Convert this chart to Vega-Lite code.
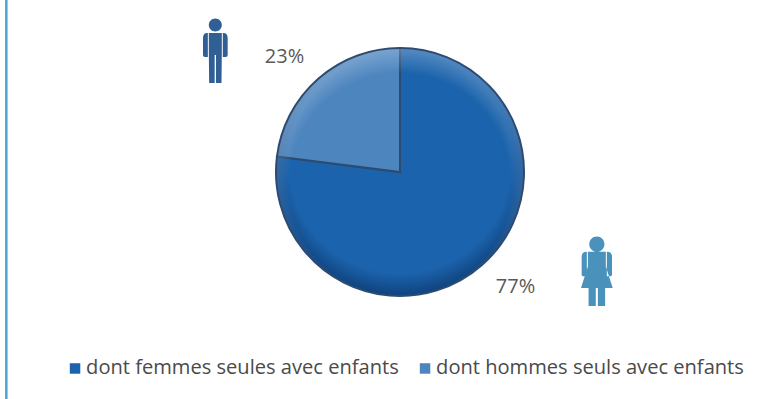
{
  "$schema": "https://vega.github.io/schema/vega-lite/v6.json",
  "width": 760,
  "height": 344,
  "autosize": "none",
  "padding": {"left": 20, "top": 0, "right": 0, "bottom": 55},
  "background": "white",
  "view": {"stroke": null},
  "datasets": {
    "parts": [
      {"categorie": "dont femmes seules avec enfants", "part": 0.77},
      {"categorie": "dont hommes seuls avec enfants", "part": 0.23}
    ]
  },
  "layer": [
    {
      "data": {"values": [{"cadre": "gauche"}]},
      "mark": {"type": "rule", "stroke": "#4aa5d2", "strokeWidth": 2.5},
      "encoding": {
        "x": {"datum": -1.8, "type": "quantitative", "scale": {"domain": [0, 100]}, "axis": null},
        "y": {"datum": 0, "type": "quantitative", "scale": {"domain": [0, 100], "reverse": true}, "axis": null},
        "y2": {"datum": 116}
      }
    },
    {
      "data": {"name": "parts"},
      "mark": {"type": "arc", "outerRadius": 124, "stroke": "#2d4b70", "strokeWidth": 2},
      "encoding": {
        "theta": {"field": "part", "type": "quantitative", "stack": true, "scale": {"domain": [0, 1]}},
        "order": {"field": "part", "sort": "descending"},
        "color": {
          "field": "categorie",
          "type": "nominal",
          "scale": {
            "domain": ["dont femmes seules avec enfants", "dont hommes seuls avec enfants"],
            "range": ["#1b63ac", "#4d85bf"]
          },
          "legend": {
            "title": null,
            "orient": "none",
            "direction": "horizontal",
            "legendX": 45,
            "legendY": 358,
            "symbolType": "square",
            "symbolSize": 110,
            "symbolStrokeWidth": 0,
            "labelFont": "Open Sans",
            "labelFontSize": 20.1,
            "labelColor": "#4a4a4a",
            "labelOffset": 1,
            "columnPadding": 16,
            "labelLimit": 400
          }
        }
      }
    },
    {
      "data": {"values": [{"effet": "ombre"}]},
      "mark": {
        "type": "arc",
        "outerRadius": 123,
        "color": {
          "gradient": "radial",
          "x1": 0.5, "y1": 0.46, "r1": 0,
          "x2": 0.5, "y2": 0.46, "r2": 0.54,
          "stops": [
            {"offset": 0.84, "color": "rgba(0,20,60,0)"},
            {"offset": 1, "color": "rgba(0,20,60,0.4)"}
          ]
        }
      },
      "encoding": {}
    },
    {
      "data": {"values": [{"effet": "lumiere"}]},
      "mark": {
        "type": "arc",
        "outerRadius": 123,
        "color": {
          "gradient": "radial",
          "x1": 0.5, "y1": 0.55, "r1": 0,
          "x2": 0.5, "y2": 0.55, "r2": 0.55,
          "stops": [
            {"offset": 0.82, "color": "rgba(255,255,255,0)"},
            {"offset": 1, "color": "rgba(255,255,255,0.25)"}
          ]
        }
      },
      "encoding": {}
    },
    {
      "data": {"name": "parts"},
      "mark": {"type": "text", "radius": 163, "thetaOffset": -0.065, "font": "Open Sans", "fontSize": 20, "color": "#595959"},
      "encoding": {
        "theta": {"field": "part", "type": "quantitative", "stack": true, "scale": {"domain": [0, 1]}},
        "order": {"field": "part", "sort": "descending"},
        "text": {"field": "part", "type": "quantitative", "format": ".0%"}
      }
    },
    {
      "data": {"values": [{"silhouette": "homme", "px": 25.7, "py": 14.7}]},
      "mark": {
        "type": "point",
        "filled": true,
        "opacity": 1,
        "color": "#2f5f94",
        "size": 16900,
        "shape": "M0.1 -0.392A0.1 0.1 0 1 1 -0.1 -0.392A0.1 0.1 0 1 1 0.1 -0.392ZM-0.1 -0.27L0.1 -0.27L0.1 0.02L0.095 0.5L0.01 0.5L0.01 0.07L-0.01 0.07L-0.01 0.5L-0.095 0.5L-0.1 0.02ZM-0.125 -0.27L-0.115 -0.27L-0.115 0.1L-0.16 0.1Q-0.19 0.1 -0.19 0.07L-0.19 -0.19Q-0.19 -0.27 -0.125 -0.27ZM0.125 -0.27L0.115 -0.27L0.115 0.1L0.16 0.1Q0.19 0.1 0.19 0.07L0.19 -0.19Q0.19 -0.27 0.125 -0.27Z"
      },
      "encoding": {
        "x": {"field": "px", "type": "quantitative"},
        "y": {"field": "py", "type": "quantitative"}
      }
    },
    {
      "data": {"values": [{"silhouette": "femme", "px": 75.9, "py": 78.9}]},
      "mark": {
        "type": "point",
        "filled": true,
        "opacity": 1,
        "color": "#4a91bb",
        "size": 19044,
        "shape": "M0.11 -0.395A0.11 0.11 0 1 1 -0.11 -0.395A0.11 0.11 0 1 1 0.11 -0.395ZM-0.13 -0.285L0.13 -0.285L0.13 -0.07L0.23 0.24L0.12 0.24L0.12 0.5L0.015 0.5L0.015 0.24L-0.015 0.24L-0.015 0.5L-0.12 0.5L-0.12 0.24L-0.23 0.24L-0.13 -0.07ZM-0.15 -0.285L-0.145 -0.285L-0.145 0.07L-0.2 0.07Q-0.22 0.07 -0.22 0.05L-0.22 -0.21Q-0.22 -0.285 -0.15 -0.285ZM0.15 -0.285L0.145 -0.285L0.145 0.07L0.2 0.07Q0.22 0.07 0.22 0.05L0.22 -0.21Q0.22 -0.285 0.15 -0.285Z"
      },
      "encoding": {
        "x": {"field": "px", "type": "quantitative"},
        "y": {"field": "py", "type": "quantitative"}
      }
    }
  ]
}
